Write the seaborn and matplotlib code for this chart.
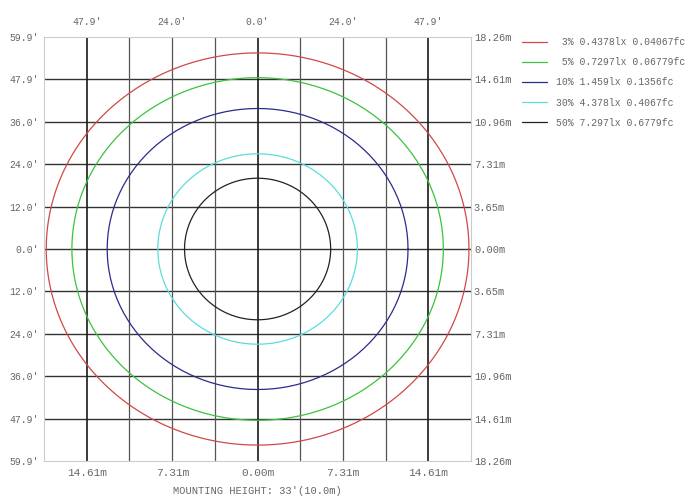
import numpy as np
import pandas as pd
import seaborn as sns
from matplotlib import pyplot as plt

# iso-illuminance contours, half-widths in feet (x = across, y = along)
levels = ["3%", "5%", "10%", "30%", "50%"]
lux = ["0.4378lx", "0.7297lx", "1.459lx", "4.378lx", "7.297lx"]
fc = ["0.04067fc", "0.06779fc", "0.1356fc", "0.4067fc", "0.6779fc"]
radius_x = [59.3, 52.1, 42.2, 28.0, 20.5]
radius_y = [55.4, 48.4, 39.7, 26.9, 20.0]
colors = ["#d04848", "#3cc23c", "#2b2b8c", "#5cdcdc", "#222222"]

# grid / tick labels
grid_step = 11.98
half_span = 59.9
left_labels = ["59.9'", "47.9'", "36.0'", "24.0'", "12.0'", "0.0'",
               "12.0'", "24.0'", "36.0'", "47.9'", "59.9'"]
right_labels = ["18.26m", "14.61m", "10.96m", "7.31m", "3.65m", "0.00m",
                "3.65m", "7.31m", "10.96m", "14.61m", "18.26m"]
top_labels = ["47.9'", "24.0'", "0.0'", "24.0'", "47.9'"]
bottom_labels = ["14.61m", "7.31m", "0.00m", "7.31m", "14.61m"]
mounting = "MOUNTING HEIGHT: 33'(10.0m)"

sns.set_style("white")
plt.rcParams['font.family'] = ['Liberation Mono', 'DejaVu Sans Mono']
txt = "#666666"

fig = plt.figure(figsize=(7, 5), dpi=100)
ax = fig.add_axes([0.063, 0.078, 0.610, 0.848])

grid_pos = np.arange(-5, 6) * grid_step
for y in grid_pos[1:-1]:
    ax.axhline(y, color="#333333", lw=1.0, zorder=1)
for i, x in enumerate(grid_pos[1:-1]):
    k = i + 1 - 5
    if k % 4 == 0:
        ax.axvline(x, color="#1a1a1a", lw=1.2, zorder=1)
    else:
        ax.axvline(x, color="#555555", lw=0.9, zorder=1)

theta = np.linspace(0, 2 * np.pi, 241)
for lev, lx, f, rx, ry, c in zip(levels, lux, fc, radius_x, radius_y, colors):
    df = pd.DataFrame({"x": rx * np.cos(theta), "y": ry * np.sin(theta)})
    sns.lineplot(data=df, x="x", y="y", sort=False, estimator=None,
                 color=c, lw=0.9, label=f"{lev:>3} {lx} {f}", ax=ax, zorder=3)

ax.set_xlim(-half_span, half_span)
ax.set_ylim(-half_span, half_span)
for s in ax.spines.values():
    s.set_color("#cccccc")
    s.set_linewidth(0.8)

ax.set_yticks(grid_pos)
ax.set_yticklabels(left_labels[::-1])
ax.tick_params(axis="y", pad=4, length=0, labelsize=7, labelcolor=txt)
xt = grid_pos[1:-1:2]
ax.set_xticks(xt)
ax.set_xticklabels(bottom_labels)
ax.tick_params(axis="x", pad=5, length=0, labelsize=8, labelcolor=txt)
ax.set_xlabel(mounting, fontsize=7.5, color=txt, labelpad=6)
ax.set_ylabel("")

ax_r = ax.secondary_yaxis("right")
ax_r.set_yticks(grid_pos)
ax_r.set_yticklabels(right_labels[::-1])
ax_r.tick_params(axis="y", pad=2, length=0, labelsize=7.5, labelcolor=txt)
ax_r.spines["right"].set_visible(False)

ax_t = ax.secondary_xaxis("top")
ax_t.set_xticks(xt)
ax_t.set_xticklabels(top_labels)
ax_t.tick_params(axis="x", pad=7, length=0, labelsize=7, labelcolor=txt)
ax_t.spines["top"].set_visible(False)

handles, labels = ax.get_legend_handles_labels()
ax.get_legend().remove()
fig.legend(handles, labels, loc="upper left", bbox_to_anchor=(0.745, 0.926),
           frameon=False, fontsize=7, labelcolor=txt, handlelength=2.6,
           handletextpad=1.0, labelspacing=1.05, borderpad=0, borderaxespad=0)

fig.savefig("out.png", dpi=100, facecolor="white")
